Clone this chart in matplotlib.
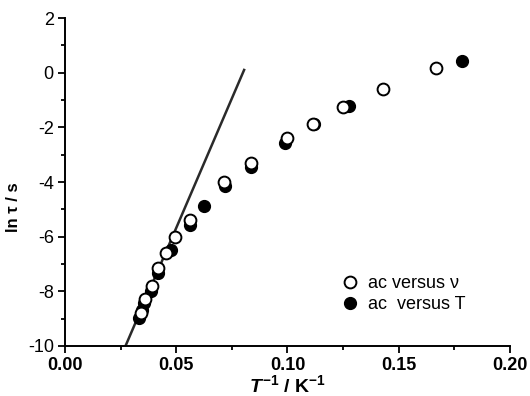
import matplotlib
matplotlib.use('Agg')
import matplotlib.pyplot as plt
import numpy as np
from matplotlib.ticker import MultipleLocator

plt.rcParams['font.family'] = ['Liberation Sans', 'DejaVu Sans']
plt.rcParams['mathtext.fontset'] = 'custom'
plt.rcParams['mathtext.rm'] = 'Liberation Sans:bold'
plt.rcParams['mathtext.it'] = 'Liberation Sans:bold:italic'
plt.rcParams['mathtext.bf'] = 'Liberation Sans:bold'

# ac versus nu (open circles)
x_nu = [0.1666, 0.1429, 0.1248, 0.1113, 0.0998, 0.0834, 0.0715, 0.0562,
        0.0494, 0.0454, 0.0419, 0.0390, 0.0360, 0.0340]
y_nu = [0.16, -0.59, -1.27, -1.89, -2.40, -3.29, -4.00, -5.39,
        -6.00, -6.61, -7.16, -7.81, -8.29, -8.80]

# ac versus T (filled circles)
x_T = [0.1783, 0.1278, 0.1118, 0.0990, 0.0834, 0.0719, 0.0626, 0.0562,
       0.0475, 0.0419, 0.0387, 0.0355, 0.0345, 0.0333]
y_T = [0.43, -1.21, -1.89, -2.56, -3.46, -4.15, -4.87, -5.57,
       -6.49, -7.32, -7.98, -8.44, -8.68, -8.99]

# Arrhenius fit line
fit_x = [0.0272, 0.0805]
fit_y = [-10.0, 0.1]

fig = plt.figure(figsize=(5.3, 3.96), dpi=100)
ax = fig.add_axes([0.1226, 0.1263, 0.8397, 0.8282])

ax.plot(fit_x, fit_y, color='#2a2a2a', lw=1.8, zorder=1)
ax.plot(x_nu, y_nu, 'o', ms=8.5, mfc='white', mec='black', mew=1.4,
        label='ac versus \u03bd', zorder=3)
ax.plot(x_T, y_T, 'o', ms=8.5, mfc='black', mec='black', mew=1.0,
        label='ac  versus T', zorder=2)

ax.set_xlim(0, 0.2)
ax.set_ylim(-10, 2)
ax.xaxis.set_minor_locator(MultipleLocator(0.025))
ax.yaxis.set_minor_locator(MultipleLocator(1))
ax.set_xticks(np.arange(0, 0.201, 0.05))
ax.set_xticklabels(['0.00', '0.05', '0.10', '0.15', '0.20'], fontweight='bold', fontsize=13)
ax.set_yticks(np.arange(-10, 2.1, 2))
ax.set_yticklabels(['-10', '-8', '-6', '-4', '-2', '0', '2'], fontsize=13)
ax.tick_params(which='major', direction='out', length=5, width=1.3, pad=3)
ax.tick_params(which='minor', direction='out', length=3, width=1.3)

for s in ['top', 'right']:
    ax.spines[s].set_visible(False)
for s in ['left', 'bottom']:
    ax.spines[s].set_linewidth(1.4)

ax.set_xlabel(r'$T^{-1}$ / K$^{-1}$', fontweight='bold', fontsize=14, labelpad=0)
ax.set_ylabel('ln \u03c4 / s', fontweight='bold', fontsize=12)
ax.yaxis.set_label_coords(-0.098, 0.424)

ax.legend(loc='center left', bbox_to_anchor=(0.6, 0.158), frameon=False,
          fontsize=13, handletextpad=0.5, labelspacing=0.25, borderpad=0,
          handlelength=1.0)

fig.savefig('out.png', dpi=100)
